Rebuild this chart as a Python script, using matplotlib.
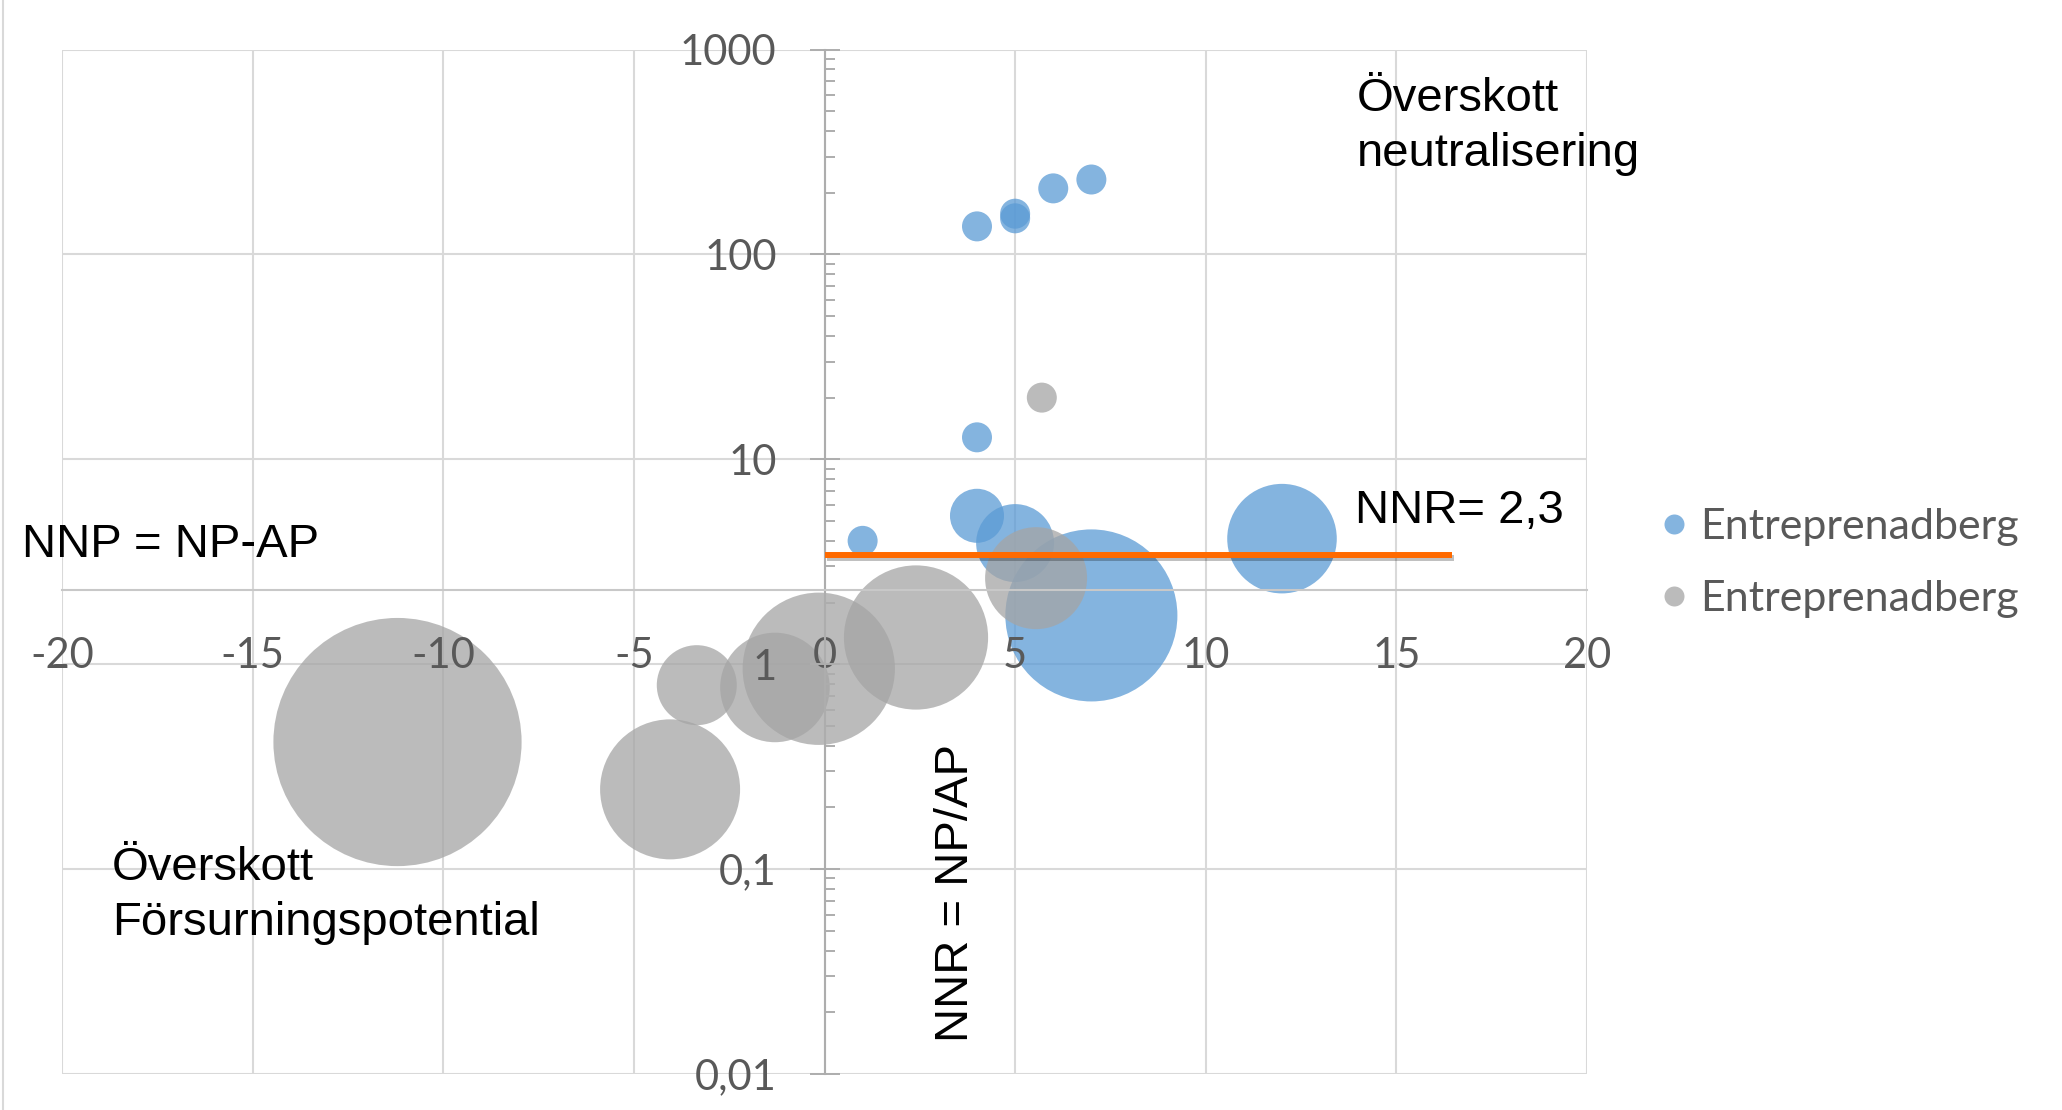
import matplotlib
matplotlib.use('Agg')
import matplotlib.pyplot as plt
import matplotlib.transforms as mtransforms
import matplotlib.patheffects as pe
from matplotlib.lines import Line2D
from matplotlib.ticker import FixedLocator, FuncFormatter, LogLocator, NullFormatter
import numpy as np

W, H, DPI = 2062, 1110, 100

# series 1 (blue): NNP, NNR and bubble size
nnp_blue  = [1, 4, 4, 4, 5, 5, 5, 6, 7, 7, 12]
nnr_blue  = [4.0, 137, 12.8, 5.3, 158, 150, 3.9, 210, 232, 1.73, 4.1]
size_blue = [2.25, 2.25, 2.25, 7.3, 2.25, 2.25, 15.2, 2.25, 2.25, 74, 30]

# series 2 (gray)
nnp_gray  = [5.7, 5.55, 2.4, -0.15, -1.3, -3.35, -4.05, -11.2]
nnr_gray  = [20, 2.63, 1.35, 0.95, 0.77, 0.79, 0.245, 0.417]
size_gray = [2.25, 26, 52, 58, 30, 16, 49, 154]

series_names = ['Entreprenadberg', 'Entreprenadberg']

nnr_limit = 2.3          # horizontal axis crosses here
nnr_line_x = [0, 16.45]  # extent of the orange NNR line

x_ticks = [-20, -15, -10, -5, 0, 5, 10, 15, 20]
y_ticks = [0.01, 0.1, 1, 10, 100, 1000]

blue = (0x5B/255, 0x9B/255, 0xD5/255, 0.75)
gray = (0xA5/255, 0xA5/255, 0xA5/255, 0.75)
grid_c = '#D9D9D9'
txt_c = '#595959'

plt.rcParams['font.family'] = ['Lato', 'DejaVu Sans']
plt.rcParams['axes.unicode_minus'] = False

fig = plt.figure(figsize=(W/DPI, H/DPI), dpi=DPI)
ax = fig.add_axes([62/W, 1-1074/H, (1587-62)/W, (1074-49.5)/H])
ax.set_xlim(-20, 20)
ax.set_yscale('log')
ax.set_ylim(0.01, 1000)

# grid drawn by hand so it stays under the bubbles while tick labels stay on top
for xv in x_ticks:
    ax.axvline(xv, color=grid_c, lw=1.5, zorder=0)
for yv in y_ticks:
    ax.axhline(yv, color=grid_c, lw=1.5, zorder=0)

# bubble area proportional to size value
s_unit = (20*72/DPI)**2
ax.scatter(nnp_blue, nnr_blue, s=np.array(size_blue)*s_unit, color=blue, lw=0, zorder=1)
ax.scatter(nnp_gray, nnr_gray, s=np.array(size_gray)*s_unit, color=gray, lw=0, zorder=1)

# NNR line, lifted a bit above the axis so both stay visible
lift = mtransforms.offset_copy(ax.transData, fig=fig, y=25.2, units='points')
ax.plot(nnr_line_x, [nnr_limit]*2, transform=lift, color='#FF6A00', lw=4.3,
        solid_capstyle='butt', zorder=4,
        path_effects=[pe.SimpleLineShadow(offset=(1.5, -2), alpha=0.25), pe.Normal()])

for side in ['top', 'right']:
    ax.spines[side].set_visible(False)
ax.spines['left'].set_position(('data', 0))
ax.spines['bottom'].set_position(('data', nnr_limit))
ax.spines['left'].set_color('#ADADAD')
ax.spines['left'].set_linewidth(1.5)
ax.spines['bottom'].set_color('#C8C8C8')
ax.spines['bottom'].set_linewidth(1.5)

ax.xaxis.set_major_locator(FixedLocator(x_ticks))
ax.yaxis.set_major_locator(FixedLocator(y_ticks))
ax.yaxis.set_minor_locator(LogLocator(base=10, subs=np.arange(2, 10), numticks=50))
ax.yaxis.set_minor_formatter(NullFormatter())
ax.yaxis.set_major_formatter(FuncFormatter(lambda v, p: '{:g}'.format(v).replace('.', ',')))

ax.tick_params(axis='y', which='major', direction='inout', length=21, width=1.4,
               color='#ADADAD', pad=24, labelsize=30, labelcolor=txt_c)
ax.tick_params(axis='y', which='minor', direction='in', length=7, width=1.4, color='#ADADAD')
ax.tick_params(axis='x', which='major', length=0, pad=34, labelsize=30, labelcolor=txt_c)

# legend at the right
handles = [Line2D([], [], marker='o', ls='', markersize=14.4, markeredgewidth=0, color=c)
           for c in (blue, gray)]
fig.legend(handles, series_names, loc='center left', bbox_to_anchor=(0.8056, 0.4928),
           frameon=False, fontsize=31, handlelength=0.6, handletextpad=0.3,
           borderpad=0, borderaxespad=0, labelspacing=0.78, labelcolor=txt_c)

def note(x, y, s, **kw):
    # y is the baseline of the last line
    fig.text(x/W, 1-y/H, s, fontsize=34, family='Liberation Sans', color='black',
             ha='left', va='baseline', linespacing=1.33, **kw)

note(22, 557, 'NNP = NP-AP')
note(1355, 523, 'NNR= 2,3')
note(1357, 166, 'Överskott\nneutralisering')
note(112, 935, 'Överskott\nFörsurningspotential')
note(968, 1042, 'NNR = NP/AP', rotation=90, rotation_mode='anchor')

# chart area edge
fig.add_artist(Line2D([2.5/W]*2, [0, 1], color=grid_c, lw=1.5, transform=fig.transFigure))

fig.savefig('out.png', dpi=DPI)
